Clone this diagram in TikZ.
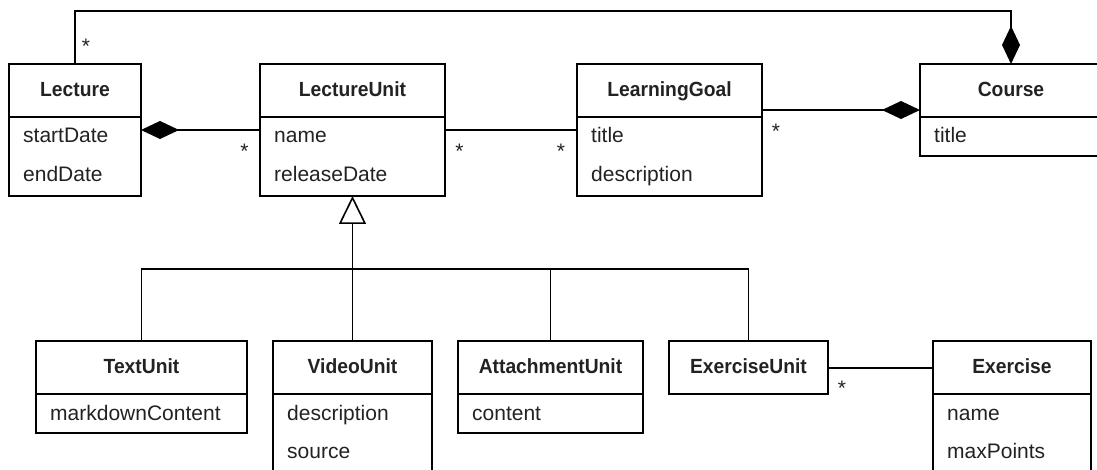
\documentclass[tikz,border=0pt]{standalone}
\usepackage{fontspec}
\setmainfont{Liberation Sans}
\newfontfamily\headfont{Liberation Sans}[FakeStretch=0.94]
\usetikzlibrary{arrows.meta}
\definecolor{ink}{HTML}{222222}

% class box: name, left, top, width, height, title
\newcommand\classbox[6]{%
  \node[cls, minimum width=#4pt, minimum height=#5pt] (#1) at (#2,#3) {};
  \draw[link] ([yshift=-53pt]#1.north west) -- ([yshift=-53pt]#1.north east);
  \node[hd] (#1-title) at ([yshift=-32.7pt]#1.north) {#6};
}
% attribute line: name, class, baseline offset from top, text
\newcommand\attrline[4]{%
  \node[attr] (#1) at ([xshift=14pt,yshift=-#3pt]#2.north west) {#4};
}

\begin{document}
\begin{tikzpicture}[x=1pt,y=-1pt,
  cls/.style={draw=black, line width=1.6pt, rectangle, inner sep=0pt, outer sep=0pt, anchor=north west},
  hd/.style={anchor=base, inner sep=0pt, text=ink, font=\headfont\bfseries\fontsize{20.5}{24}\selectfont},
  attr/.style={anchor=base west, inner sep=0pt, text=ink, font=\fontsize{21}{25}\selectfont},
  mult/.style={anchor=north, inner sep=0pt, text=ink, font=\fontsize{21}{25}\selectfont},
  link/.style={line width=1.6pt, draw=black},
  comp/.style={link, -{Diamond[length=38pt,width=18pt]}},
  gen/.style={link, -{Triangle[open,length=28pt,width=27pt,fill=white]}}]
\useasboundingbox (0,0) rectangle (1097,470);
\clip (0,0) rectangle (1097,470);

% upper row
\classbox{lecture}{9}{64}{132}{132}{Lecture}
\attrline{lecture-a1}{lecture}{79}{startDate}
\attrline{lecture-a2}{lecture}{117.5}{endDate}

\classbox{lunit}{260}{64}{185}{132}{LectureUnit}
\attrline{lunit-a1}{lunit}{79}{name}
\attrline{lunit-a2}{lunit}{117.5}{releaseDate}

\classbox{lgoal}{577}{64}{185}{132}{LearningGoal}
\attrline{lgoal-a1}{lgoal}{79}{title}
\attrline{lgoal-a2}{lgoal}{117.5}{description}

\classbox{course}{920}{64}{182}{92}{Course}
\attrline{course-a1}{course}{79}{title}

% lower row
\classbox{textunit}{36}{341}{211}{92}{TextUnit}
\attrline{textunit-a1}{textunit}{79}{markdownContent}

\classbox{videounit}{273}{341}{159}{132}{VideoUnit}
\attrline{videounit-a1}{videounit}{79}{description}
\attrline{videounit-a2}{videounit}{117.5}{source}

\classbox{attunit}{458}{341}{185}{92}{AttachmentUnit}
\attrline{attunit-a1}{attunit}{79}{content}

\node[cls, minimum width=159pt, minimum height=53pt] (exunit) at (669,341) {};
\node[hd] (exunit-title) at ([yshift=-32.7pt]exunit.north) {ExerciseUnit};

\classbox{exercise}{933}{341}{158}{132}{Exercise}
\attrline{exercise-a1}{exercise}{79}{name}
\attrline{exercise-a2}{exercise}{117.5}{maxPoints}

% compositions
\draw[comp] (lecture.north) -- ++(0,-53) -| (course.north);
\draw[comp] (lunit.west |- 0,130) -- (lecture.east |- 0,130);
\draw[comp] (lgoal.east |- 0,110) -- (course.west |- 0,110);

% associations
\draw[link] (lunit.east |- 0,130) -- (lgoal.west |- 0,130);
\draw[link] (exunit.east |- 0,368) -- (exercise.west |- 0,368);

% generalization
\coordinate (bus) at (352.5,269);
\draw[link] (textunit.north) -- (textunit.north |- bus) -- (exunit.north |- bus) -- (exunit.north);
\draw[link] (videounit.north) -- (bus);
\draw[link] (attunit.north) -- (attunit.north |- bus);
\draw[gen] (bus) -- (lunit.south);

% multiplicities
\node[mult] (m1) at (86,39) {*};
\node[mult] (m2) at (244.5,143.5) {*};
\node[mult] (m3) at (459.5,143.5) {*};
\node[mult] (m4) at (561,143.5) {*};
\node[mult] (m5) at (776,123.5) {*};
\node[mult] (m6) at (842,381) {*};
\end{tikzpicture}
\end{document}
